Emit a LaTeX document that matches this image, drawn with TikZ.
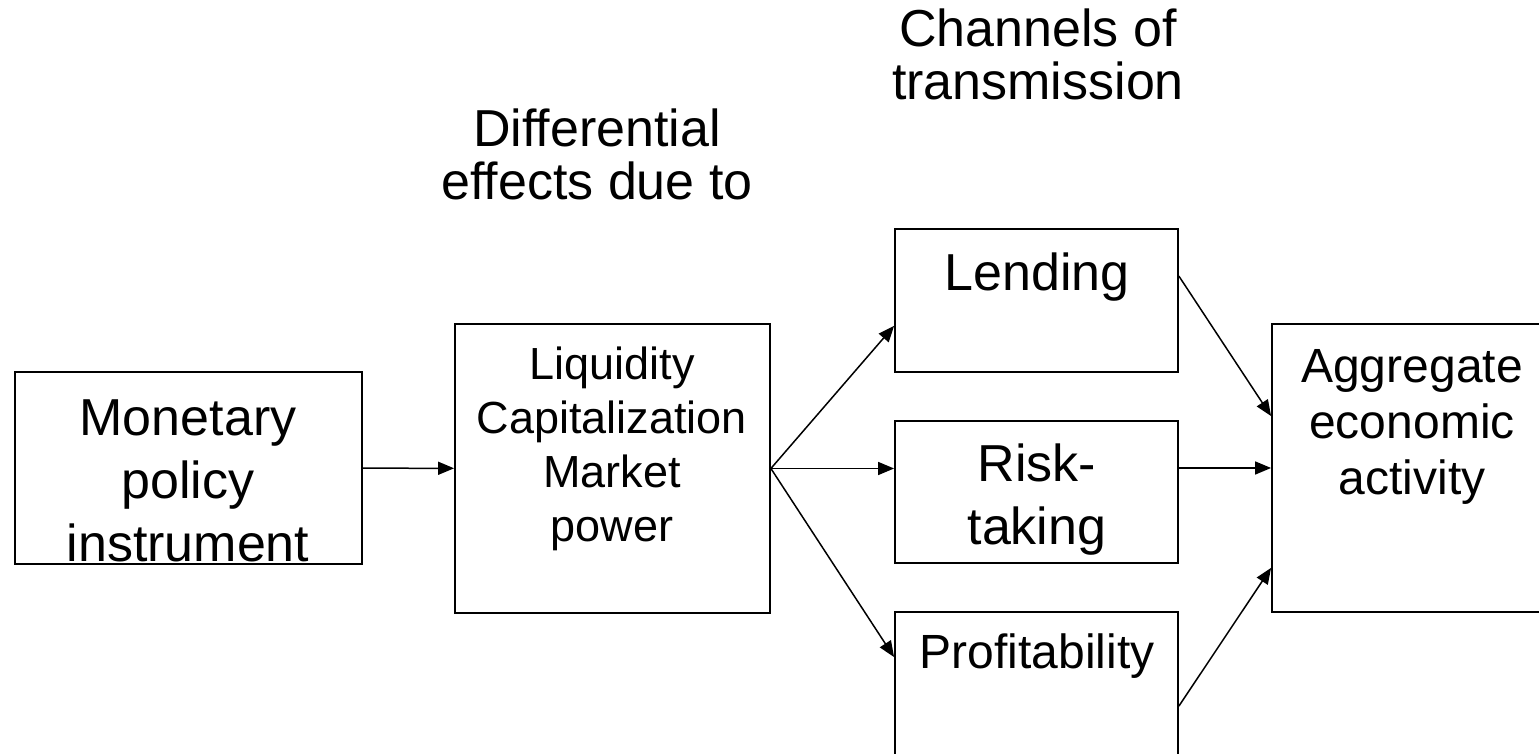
\documentclass[tikz,border=0pt]{standalone}
\usepackage{fontspec}
\setmainfont{Liberation Sans}
\usetikzlibrary{arrows.meta,calc}
\begin{document}
\begin{tikzpicture}[x=0.5pt,y=0.5pt,
  box/.style={draw, line width=0.9pt, rectangle, inner sep=0pt},
  txt/.style={align=center, inner sep=0pt, anchor=base},
  arr/.style={line width=0.75pt, -{Triangle[length=8pt,width=6.5pt]}}]
\useasboundingbox (0,0) rectangle (1539,754);
% boxes
\node[box, minimum width=173.5pt, minimum height=96pt] (mon) at (188.5,286) {};
\node[box, minimum width=157.5pt, minimum height=144.5pt] (liq) at (612.5,285.5) {};
\node[box, minimum width=141.5pt, minimum height=71.5pt] (lend) at (1036.5,453.5) {};
\node[box, minimum width=141.5pt, minimum height=71pt] (risk) at (1036.5,262) {};
\node[box, minimum width=141.5pt, minimum height=71.5pt] (prof) at (1036.5,70.5) {};
\node[box, minimum width=144pt, minimum height=144pt] (agg) at (1416,286) {};
% texts (base = last line)
\node[txt, font=\fontsize{26}{31.5}\selectfont] (mon-t) at (188,192) {Monetary\\policy\\instrument};
\node[txt, font=\fontsize{22.5}{27}\selectfont] (liq-t) at (612,212) {Liquidity\\Capitalization\\Market\\power};
\node[txt, font=\fontsize{26}{31.5}\selectfont] (lend-t) at (1037,463) {Lending};
\node[txt, font=\fontsize{26}{31.5}\selectfont] (risk-t) at (1037,209) {Risk-\\taking};
\node[txt, font=\fontsize{24}{28}\selectfont] (prof-t) at (1037,85) {Profitability};
\node[txt, font=\fontsize{24}{28}\selectfont] (agg-t) at (1412,259) {Aggregate\\economic\\activity};
\node[txt, font=\fontsize{26}{26.5}\selectfont] (diff-t) at (597,554) {Differential\\effects due to};
\node[txt, font=\fontsize{26}{26.5}\selectfont] (chan-t) at (1038,654) {Channels of\\transmission};
% arrows
\draw (mon) edge[arr] (liq);
\draw (liq.east) edge[arr] ($(lend.south west)+(0,47)$);
\draw (liq.east) edge[arr] (risk.west |- liq.east);
\draw (liq.east) edge[arr] ($(prof.north west)+(0,-46)$);
\draw ($(lend.north east)+(0,-48)$) edge[arr] ($(agg.north west)+(0,-93)$);
\draw (risk.east |- agg.west) edge[arr] (agg.west);
\draw ($(prof.north east)+(0,-95)$) edge[arr] ($(agg.south west)+(0,45)$);
\end{tikzpicture}
\end{document}
